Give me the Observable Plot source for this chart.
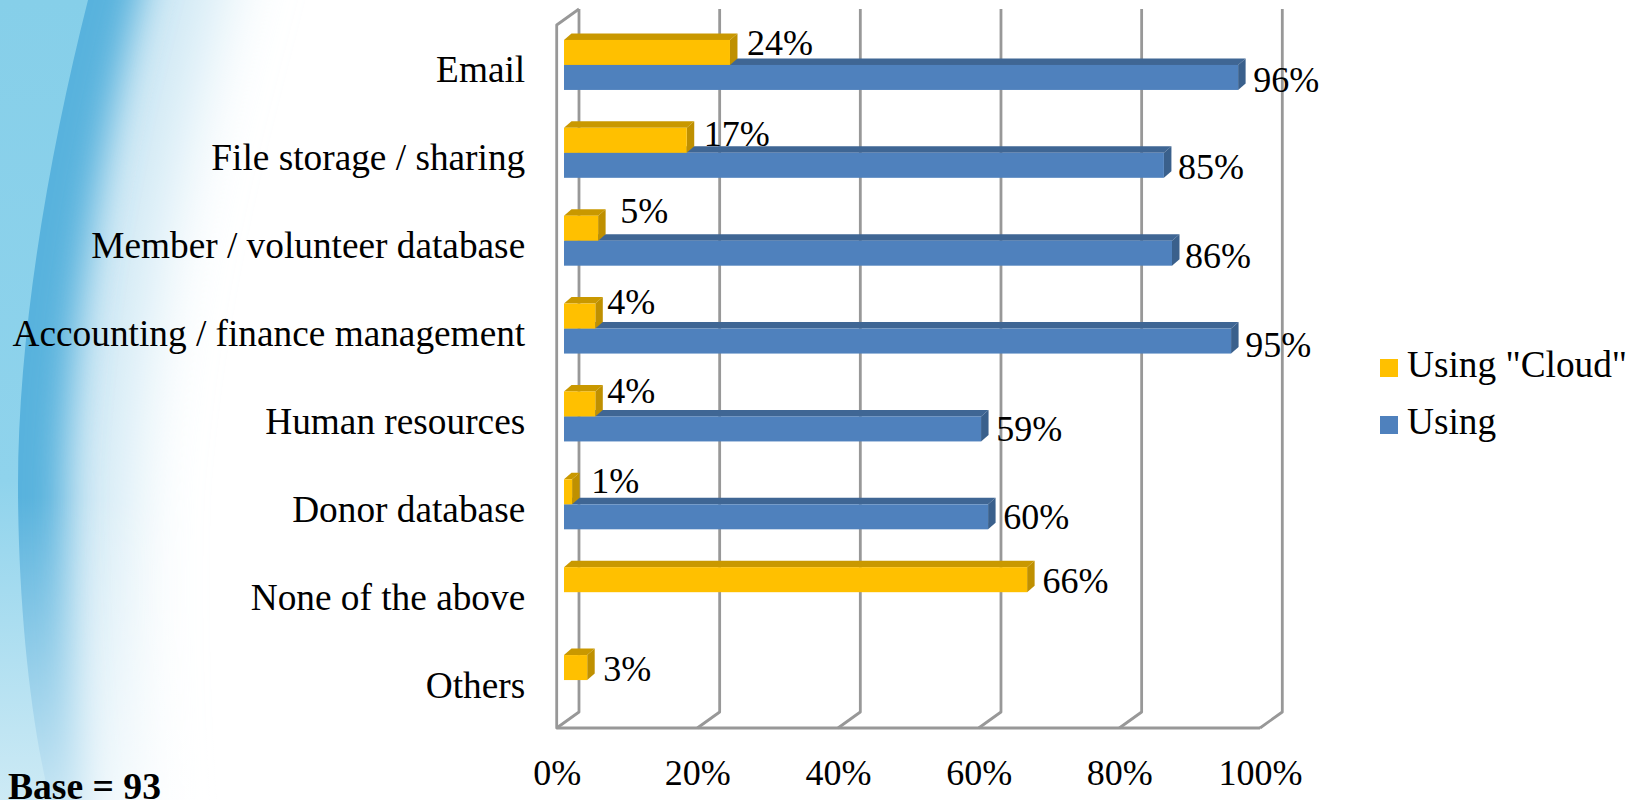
<!DOCTYPE html>
<html>
<head>
<meta charset="utf-8">
<script src="https://cdn.jsdelivr.net/npm/d3@7"></script>
<script src="https://cdn.jsdelivr.net/npm/@observablehq/plot@0.6"></script>
<style>
  html, body { margin: 0; padding: 0; background: #fff; overflow: hidden; }
  body { width: 1638px; height: 800px; position: relative; font-family: "Liberation Serif", serif; color: #000; }
  #bg, #chart { position: absolute; left: 0; top: 0; }
  #chart svg { background: transparent; display: block; }
  .legend { position: absolute; left: 1380px; font-size: 37.3px; line-height: 40px; white-space: nowrap; }
  .legend i { display: inline-block; width: 18px; height: 18px; margin-right: 9px; vertical-align: 0px; }
  #base { position: absolute; left: 8px; top: 773px; font-size: 37.6px; line-height: 27px; font-weight: bold; white-space: nowrap; }
</style>
</head>
<body>
<svg id="bg" width="1638" height="800" xmlns="http://www.w3.org/2000/svg">
  <defs>
    <filter id="b1" x="-100%" width="300%" y="-20%" height="140%"><feGaussianBlur stdDeviation="34"/></filter>
    <filter id="b2" x="-100%" width="300%" y="-20%" height="140%"><feGaussianBlur stdDeviation="18"/></filter>
    <linearGradient id="left" x1="0" y1="0" x2="0" y2="1">
      <stop offset="0" stop-color="#86cfe9"/><stop offset="0.6" stop-color="#8fd3ec"/><stop offset="1" stop-color="#cdeaf5"/>
    </linearGradient>
    <linearGradient id="fade" x1="0" y1="0" x2="0" y2="1">
      <stop offset="0.62" stop-color="#fff" stop-opacity="0"/><stop offset="1" stop-color="#fff" stop-opacity="0.65"/>
    </linearGradient>
  </defs>
  <path d="M-100,-200 L270,-200 L220,0 C180,150 145,300 130,485 C125,600 130,720 135,800 L135,1000 L-100,1000Z" fill="#cfe8f4" filter="url(#b1)"/>
  <path d="M-100,-200 L190,-200 L140,0 C95,170 70,350 66,485 C66,600 73,720 83,800 L83,1000 L-100,1000Z" fill="#58b2dd" filter="url(#b2)"/>
  <rect x="0" y="0" width="300" height="800" fill="url(#fade)"/>
  <path d="M0,0 L88,0 C50,150 18,330 18,485 C18,600 30,720 50,800 L0,800Z" fill="url(#left)"/>
</svg>
<div id="chart"></div>
<div class="legend" style="top:345px"><i style="background:#FFC000"></i>Using "Cloud"</div>
<div class="legend" style="top:402px"><i style="background:#4F81BD"></i>Using</div>
<div id="base">Base = 93</div>
<script>
const categories = ["Email", "File storage / sharing", "Member / volunteer database", "Accounting / finance management", "Human resources", "Donor database", "None of the above", "Others"];
const usingCloud = [23.6, 17.45, 4.85, 4.45, 4.45, 1.15, 65.85, 3.3];
const usingAny = [95.85, 85.3, 86.45, 94.85, 59.3, 60.3, null, null];
const xTicks = [0, 20, 40, 60, 80, 100];

const cloudRows = categories.map((c, i) => ({category: c, value: usingCloud[i]}));
const usingRows = categories.map((c, i) => ({category: c, value: usingAny[i]})).filter(d => d.value != null);

// Hand-placed label nudges seen in the reference (px)
const cloudNudge = [[21, -26], [27, -23], [28, -34], [22, -31], [22, -29], [27, -27], [21, -15], [25, -15]];
const usingNudge = [[21, 11], [23, 10], [23, 11], [20, 12], [24, 9], [24, 9]];

const W = 1638, H = 800, mL = 556.7, mR = 1638 - 1260, mT = 25, mB = 72;
const band = (H - mT - mB) / categories.length;
const barH = 25, barOffset = 7.3, depthX = 7.5, depthY = 6.5, wallX = 22.3, wallY = 16;
const grid = "#989898", gridW = 2.8;
const catFont = 37.3, numFont = 36;

function faces(rows, topOffset, sideColor, topColor) {
  return (index, scales) => {
    const g = d3.create("svg:g");
    for (const d of rows) {
      const x0 = scales.x(0) + barOffset, x1 = scales.x(d.value) + barOffset;
      const y0 = scales.y(d.category) + topOffset, y1 = y0 + barH;
      g.append("polygon").attr("fill", topColor)
        .attr("points", [[x0, y0], [x0 + depthX, y0 - depthY], [x1 + depthX, y0 - depthY], [x1, y0]].join(" "));
      g.append("polygon").attr("fill", sideColor)
        .attr("points", [[x1, y0], [x1 + depthX, y0 - depthY], [x1 + depthX, y1 - depthY], [x1, y1]].join(" "));
    }
    return g.node();
  };
}

function walls(index, scales) {
  const g = d3.create("svg:g").attr("stroke", grid).attr("stroke-width", gridW).attr("fill", "none").attr("stroke-linejoin", "round");
  const f = H - mB, t = mT, x = scales.x;
  for (const v of xTicks) {
    g.append("path").attr("d", `M${x(v)},${f}L${x(v) + wallX},${f - wallY}V${t - wallY}`);
  }
  g.append("path").attr("d", `M${x(100)},${f}H${x(0)}V${t}L${x(0) + wallX},${t - wallY}`);
  return g.node();
}

const barMark = (rows, insetTop, fill) => Plot.barX(rows, {
  x: "value", y: "category", fill, dx: barOffset,
  insetTop, insetBottom: band - insetTop - barH
});

const labelMarks = (rows, nudges) => rows.map((d, i) => Plot.text([d], {
  x: r => Math.round(r.value), y: "category", text: r => Math.round(r.value) + "%",
  textAnchor: "start", fill: "#000", fontSize: numFont,
  dx: nudges[i][0], dy: nudges[i][1]
}));

const yellowInset = band / 2 - 29, blueInset = band / 2 - 4;

const plot = Plot.plot({
  width: W, height: H,
  marginLeft: mL, marginRight: mR, marginTop: mT, marginBottom: mB,
  style: {fontFamily: "Liberation Serif, serif", background: "transparent", color: "#000", overflow: "visible"},
  x: {domain: [0, 100]},
  y: {domain: categories, padding: 0, round: false},
  marks: [
    walls,
    faces(usingRows, blueInset, "#3a608c", "#3f6694"),
    barMark(usingRows, blueInset, "#4F81BD"),
    faces(cloudRows, yellowInset, "#bf9000", "#c99800"),
    barMark(cloudRows, yellowInset, "#FFC000"),
    Plot.axisX(xTicks, {anchor: "bottom", tickSize: 0, tickPadding: 31, fontSize: numFont, tickFormat: d => d + "%", label: null, fill: "#000"}),
    Plot.axisY(categories, {anchor: "left", tickSize: 0, tickPadding: 32, fontSize: catFont, dy: 1, label: null, fill: "#000", lineWidth: Infinity}),
    ...labelMarks(cloudRows, cloudNudge),
    ...labelMarks(usingRows, usingNudge)
  ]
});
document.getElementById("chart").appendChild(plot);
</script>
</body>
</html>
